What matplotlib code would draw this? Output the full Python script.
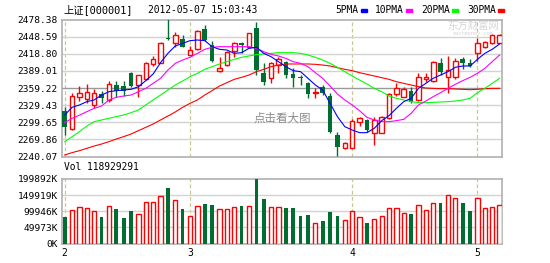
import numpy as np
import matplotlib.pyplot as plt
from matplotlib.patches import Rectangle

plt.rcParams['font.family'] = ['DejaVu Sans Mono', 'Noto Sans CJK SC']

W, H = 550, 263

# ---------------------------------------------------------------
# Dados
# ---------------------------------------------------------------
opens = [2319.7, 2288.4, 2343.0, 2340.6, 2329.6, 2348.8, 2338.3, 2363.9, 2363.0, 2384.8,
         2364.4, 2374.3, 2400.4, 2403.2, 2445.7, 2437.0, 2443.9, 2417.2, 2426.5, 2461.3,
         2434.0, 2388.8, 2399.2, 2424.1, 2438.0, 2431.1, 2463.1, 2385.8, 2376.1, 2399.2,
         2405.0, 2383.6, 2377.8, 2367.4, 2350.0, 2361.5, 2345.3, 2277.5, 2255.4, 2255.4,
         2299.5, 2303.6, 2280.4, 2281.5, 2306.5, 2348.8, 2344.1, 2354.5, 2338.3, 2374.4,
         2371.9, 2403.2, 2377.8, 2377.8, 2409.1, 2402.2, 2419.6, 2431.1, 2437.0, 2438.0]
closes = [2290.9, 2345.3, 2350.0, 2351.7, 2351.0, 2341.3, 2366.2, 2354.5, 2353.5, 2362.7,
          2381.3, 2402.2, 2409.1, 2438.0, 2443.9, 2451.4, 2431.1, 2425.3, 2458.4, 2442.7,
          2406.7, 2394.5, 2422.4, 2438.0, 2434.0, 2454.4, 2390.5, 2370.2, 2403.2, 2409.1,
          2381.8, 2376.1, 2376.1, 2348.8, 2352.8, 2350.0, 2283.2, 2257.1, 2263.0, 2302.3,
          2306.5, 2286.2, 2303.6, 2308.3, 2348.8, 2358.7, 2357.0, 2335.4, 2378.9, 2377.8,
          2405.0, 2387.6, 2390.5, 2406.7, 2403.2, 2397.5, 2437.0, 2438.7, 2451.4, 2451.4]
highs = [2325.7, 2351.0, 2362.7, 2366.0, 2358.0, 2354.5, 2371.9, 2371.9, 2371.3, 2387.6,
         2381.8, 2405.0, 2414.9, 2439.2, 2478.4, 2457.2, 2451.4, 2432.3, 2460.1, 2468.8,
         2441.5, 2412.6, 2424.1, 2439.8, 2439.8, 2455.4, 2474.6, 2402.2, 2405.0, 2412.6,
         2406.7, 2393.5, 2381.8, 2370.2, 2358.7, 2364.4, 2350.0, 2283.2, 2265.8, 2304.8,
         2308.3, 2305.8, 2309.3, 2310.5, 2350.0, 2368.4, 2361.5, 2361.5, 2384.8, 2385.8,
         2406.7, 2410.9, 2414.9, 2410.9, 2412.6, 2409.1, 2445.7, 2441.5, 2453.2, 2453.2]
lows = [2277.5, 2286.2, 2336.1, 2334.0, 2323.9, 2332.6, 2335.4, 2344.1, 2345.0, 2361.5,
        2344.1, 2373.1, 2397.5, 2402.2, 2443.0, 2430.0, 2430.0, 2416.1, 2425.3, 2441.5,
        2405.0, 2387.6, 2398.0, 2413.7, 2419.6, 2430.0, 2381.8, 2364.4, 2367.4, 2384.8,
        2376.1, 2361.5, 2364.4, 2341.3, 2341.3, 2347.1, 2280.4, 2240.1, 2252.6, 2254.3,
        2293.1, 2283.2, 2260.1, 2280.4, 2305.3, 2345.3, 2343.0, 2333.7, 2337.1, 2370.2,
        2370.2, 2381.8, 2351.0, 2374.4, 2391.8, 2395.2, 2406.7, 2428.3, 2435.8, 2437.0]

ma5 = [2312.3, 2325.6, 2329.7, 2335.5, 2338.4, 2347.0, 2352.8, 2354.6, 2355.7, 2356.9,
       2361.5, 2372.0, 2383.6, 2403.3, 2419.5, 2432.3, 2436.9, 2441.6, 2442.7, 2441.6,
       2431.1, 2426.5, 2425.3, 2419.5, 2420.7, 2428.2, 2430.0, 2419.5, 2413.7, 2405.0,
       2396.3, 2389.4, 2387.6, 2376.1, 2364.5, 2355.7, 2332.6, 2309.4, 2292.0, 2286.2,
       2281.5, 2281.5, 2289.1, 2302.4, 2311.1, 2323.9, 2335.5, 2341.3, 2358.6, 2367.3,
       2376.1, 2381.8, 2387.6, 2395.2, 2397.5, 2397.5, 2409.1, 2419.5, 2426.5, 2435.8]
ma10 = [2299.0, 2306.5, 2312.0, 2318.1, 2323.9, 2327.9, 2338.4, 2343.0, 2345.3, 2347.0,
        2352.8, 2358.6, 2367.3, 2376.0, 2390.5, 2402.1, 2407.9, 2412.6, 2419.5, 2426.5,
        2430.0, 2431.1, 2431.1, 2431.1, 2431.1, 2431.1, 2428.2, 2422.4, 2417.8, 2414.9,
        2410.8, 2405.0, 2402.1, 2396.3, 2385.9, 2376.0, 2362.7, 2348.8, 2338.4, 2329.7,
        2319.8, 2308.2, 2303.6, 2300.7, 2300.7, 2302.4, 2304.7, 2315.1, 2329.7, 2336.6,
        2344.2, 2351.1, 2358.6, 2365.6, 2372.0, 2377.8, 2384.7, 2393.4, 2405.0, 2416.6]
ma20 = [2265.9, 2274.6, 2283.3, 2293.1, 2300.7, 2303.6, 2306.5, 2309.4, 2312.3, 2316.3,
        2321.0, 2329.7, 2338.4, 2347.0, 2355.7, 2364.4, 2371.4, 2378.9, 2384.7, 2391.7,
        2396.3, 2401.0, 2405.0, 2409.1, 2412.6, 2414.9, 2417.2, 2418.4, 2419.5, 2420.7,
        2420.7, 2420.7, 2419.5, 2416.6, 2412.6, 2407.9, 2402.1, 2395.2, 2387.6, 2380.1,
        2373.1, 2366.2, 2358.6, 2352.8, 2345.3, 2341.3, 2338.4, 2335.5, 2333.7, 2333.7,
        2334.3, 2334.9, 2335.5, 2336.6, 2338.4, 2341.3, 2351.1, 2358.6, 2367.3, 2376.0]
ma30 = [2242.7, 2246.8, 2250.2, 2254.3, 2258.3, 2261.8, 2265.9, 2270.5, 2274.6, 2279.2,
        2285.0, 2290.8, 2296.6, 2303.6, 2310.5, 2317.5, 2325.6, 2332.5, 2338.4, 2347.0,
        2354.6, 2362.7, 2368.5, 2374.3, 2377.8, 2381.8, 2387.6, 2391.7, 2396.3, 2399.2,
        2401.0, 2401.0, 2401.0, 2401.0, 2400.4, 2399.2, 2397.5, 2394.6, 2391.7, 2389.4,
        2385.9, 2383.0, 2380.1, 2377.2, 2374.3, 2370.2, 2367.3, 2364.4, 2361.5, 2359.2,
        2358.6, 2358.1, 2358.1, 2357.5, 2356.9, 2356.3, 2356.9, 2358.1, 2358.6, 2358.6]

# volume [K]
volumes = [82000, 105000, 114000, 109000, 100000, 82000, 115000, 106000, 79000, 100000,
           92000, 129000, 129000, 148000, 173000, 136000, 106000, 85000, 115000, 121000,
           118000, 106000, 106000, 112000, 116000, 115000, 199892, 139000, 114000, 112000,
           109000, 109000, 85000, 89000, 64000, 71000, 98000, 85000, 73000, 102000,
           82000, 65000, 76000, 85000, 109000, 111000, 95000, 92000, 120000, 103000,
           126000, 127000, 150000, 141000, 124000, 100000, 141000, 111000, 113000, 118929]

price_ticks = [2240.07, 2269.86, 2299.65, 2329.43, 2359.22, 2389.01, 2418.80, 2448.59, 2478.38]
vol_ticks = [0, 49973, 99946, 149919, 199892]
vol_labels = ["0K", "49973K", "99946K", "149919K", "199892K"]
month_idx = [0, 17, 39, 56]
month_labels = ["2", "3", "4", "5"]

UP = "#FF0000"
DOWN = "#006E30"

# ---------------------------------------------------------------
# Figura
# ---------------------------------------------------------------
fig = plt.figure(figsize=(W / 100, H / 100), dpi=100)
fig.patch.set_facecolor("white")


def box(l, t, r, b):
    return [l / W, 1 - b / H, (r - l) / W, (b - t) / H]


def fx(x):
    return x / W


def fy(y):
    return 1 - y / H


ax = fig.add_axes(box(62, 19.5, 502, 156.5))
axv = fig.add_axes(box(62, 179, 502, 243.5))

x = np.arange(len(opens))
o = np.array(opens)
c = np.array(closes)
up = c >= o

for a in (ax, axv):
    a.set_xlim(-0.37, 59.33)
    for s in a.spines.values():
        s.set_color("#B0B0B0")
        s.set_linewidth(1.2)
    a.set_xticks([])
    a.tick_params(axis="y", length=0, labelsize=6.8, pad=3)
    for m in month_idx:
        a.axvline(m, color="#C8C890", lw=0.9, ls=(0, (3, 2)), zorder=1)

# --- painel de preço
ax.set_ylim(price_ticks[0], price_ticks[-1])
ax.set_yticks(price_ticks)
ax.set_yticklabels([f"{v:.2f}" for v in price_ticks])
for v in price_ticks[1:-1]:
    col = "#9A9A9A" if v == 2359.22 else "#D2D2D2"
    ax.axhline(v, color=col, lw=1.0, zorder=1)

ax.vlines(x[up], np.array(lows)[up], np.array(highs)[up], color=UP, lw=1, zorder=3)
ax.vlines(x[~up], np.array(lows)[~up], np.array(highs)[~up], color=DOWN, lw=1, zorder=3)
body = np.maximum(np.abs(c - o), 1.2)
bottom = np.minimum(o, c)
ax.bar(x[up], body[up], bottom=bottom[up], width=0.62, facecolor="white",
       edgecolor=UP, lw=1, zorder=4)
ax.bar(x[~up], body[~up], bottom=bottom[~up], width=0.62, color=DOWN, lw=0, zorder=4)

ax.plot(x, ma30, color="#FF0000", lw=0.8, zorder=5)
ax.plot(x, ma20, color="#00FF00", lw=0.8, zorder=5)
ax.plot(x, ma10, color="#FF00FF", lw=0.8, zorder=5)
ax.plot(x, ma5, color="#0000FF", lw=0.8, zorder=5)

ax.text(0.5, 0.28, "点击看大图", transform=ax.transAxes, ha="center", va="center",
        fontsize=8.3, color="#8C8C8C", family=["Noto Sans CJK SC"], zorder=6)
fig.text(fx(473), fy(26), "东方财富网", ha="center", va="center", fontsize=7.5,
         color="#D6D6D6", family=["Noto Sans CJK SC"])
fig.text(fx(473), fy(34), "eastmoney.com", ha="center", va="center", fontsize=3.8,
         color="#D6D6D6")

# --- painel de volume
axv.set_ylim(0, vol_ticks[-1])
axv.set_yticks(vol_ticks)
axv.set_yticklabels(vol_labels)
for v in vol_ticks[1:-1]:
    axv.axhline(v, color="#D2D2D2", lw=1.0, zorder=1)
vol = np.array(volumes)
axv.bar(x[up], vol[up], width=0.58, facecolor="white", edgecolor=UP, lw=1, zorder=3)
axv.bar(x[~up], vol[~up], width=0.5, color=DOWN, lw=0, zorder=3)

for m, lab in zip(month_idx, month_labels):
    axv.text(m, -0.07, lab, transform=axv.get_xaxis_transform(), ha="center",
             va="top", fontsize=7)

# --- textos do topo
fig.text(fx(63), fy(10), "上证[000001]", ha="left", va="center", fontsize=7.4)
fig.text(fx(148), fy(10), "2012-05-07 15:03:43", ha="left", va="center", fontsize=6.9)
legend = [("5PMA", 335, 361, "#0000FF"), ("10PMA", 375, 406, "#FF00FF"),
          ("20PMA", 421, 452, "#00FF00"), ("30PMA", 467, 498, "#FF0000")]
for lab, tx, bx, col in legend:
    fig.text(fx(tx), fy(10), lab, ha="left", va="center", fontsize=6.9)
    fig.patches.append(Rectangle((fx(bx), fy(11.5)), 6 / W, 3 / H, color=col,
                                 transform=fig.transFigure, figure=fig))
fig.text(fx(64), fy(167), "Vol 118929291", ha="left", va="center", fontsize=6.9)

fig.savefig("out.png", dpi=100)
